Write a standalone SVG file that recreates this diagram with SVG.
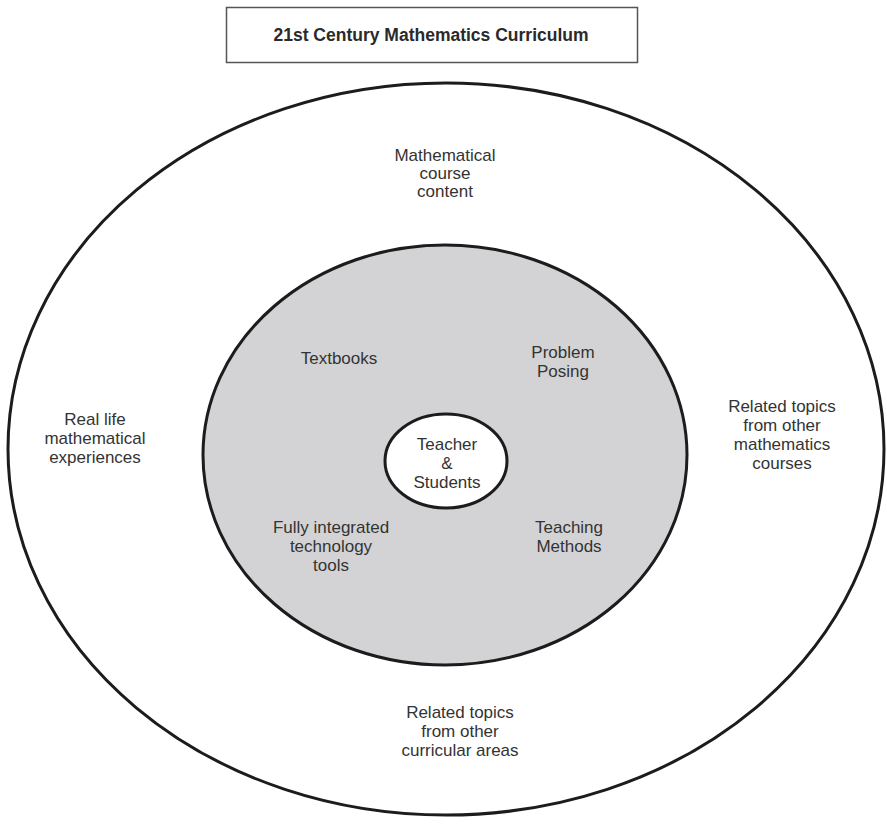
<svg xmlns="http://www.w3.org/2000/svg" width="887" height="826" viewBox="0 0 887 826">
  <style>
    .ring { stroke: #1c1c1c; stroke-width: 3; }
    .lbl { font-family: "Liberation Sans", Arial, sans-serif; font-size: 17px; fill: #333333; text-anchor: middle; }
    .title { font-family: "Liberation Sans", Arial, sans-serif; font-size: 17.5px; font-weight: bold; fill: #2a2a2a; text-anchor: middle; }
  </style>
  <rect width="887" height="826" fill="#ffffff"/>

  <!-- Title box -->
  <g id="title">
    <rect x="226.5" y="7.5" width="411" height="55" fill="#ffffff" stroke="#555555" stroke-width="1.5"/>
    <text class="title" x="431" y="41">21st Century Mathematics Curriculum</text>
  </g>

  <!-- Outer ring: course content and related areas -->
  <g id="outer">
    <ellipse class="ring" cx="446" cy="449" rx="438" ry="366" fill="#ffffff"/>
    <text class="lbl" x="445" y="161">Mathematical</text>
    <text class="lbl" x="445" y="179">course</text>
    <text class="lbl" x="445" y="197">content</text>
    <text class="lbl" x="95" y="425">Real life</text>
    <text class="lbl" x="95" y="444">mathematical</text>
    <text class="lbl" x="95" y="463">experiences</text>
    <text class="lbl" x="782" y="412">Related topics</text>
    <text class="lbl" x="782" y="431">from other</text>
    <text class="lbl" x="782" y="450">mathematics</text>
    <text class="lbl" x="782" y="469">courses</text>
    <text class="lbl" x="460" y="718">Related topics</text>
    <text class="lbl" x="460" y="737">from other</text>
    <text class="lbl" x="460" y="756">curricular areas</text>
  </g>

  <!-- Middle ring: classroom resources and practice -->
  <g id="middle">
    <ellipse class="ring" cx="445" cy="455" rx="242" ry="210" fill="#d3d3d5"/>
    <text class="lbl" x="339" y="364">Textbooks</text>
    <text class="lbl" x="563" y="358">Problem</text>
    <text class="lbl" x="563" y="377">Posing</text>
    <text class="lbl" x="331" y="533">Fully integrated</text>
    <text class="lbl" x="331" y="552">technology</text>
    <text class="lbl" x="331" y="571">tools</text>
    <text class="lbl" x="569" y="533">Teaching</text>
    <text class="lbl" x="569" y="552">Methods</text>
  </g>

  <!-- Core -->
  <g id="core">
    <ellipse class="ring" cx="446" cy="461" rx="61" ry="47" fill="#ffffff"/>
    <text class="lbl" x="447" y="450">Teacher</text>
    <text class="lbl" x="447" y="469">&amp;</text>
    <text class="lbl" x="447" y="488">Students</text>
  </g>

  <g id="connectors"/>
</svg>
